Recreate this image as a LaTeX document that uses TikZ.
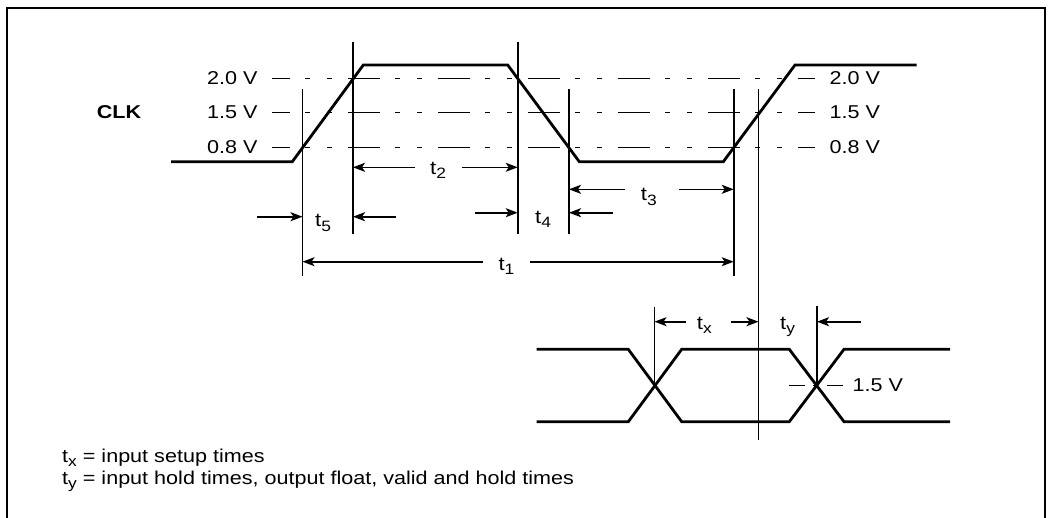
\documentclass[tikz,border=0pt]{standalone}
\usepackage{fontspec}
\setmainfont{Liberation Sans}[FakeStretch=1.16]
\usetikzlibrary{arrows.meta}

\newcommand{\tsub}[1]{t\raisebox{-0.45ex}{\fontsize{15}{15}\selectfont #1}}

\begin{document}
\begin{tikzpicture}[
    x=1pt, y=-1pt,
    font=\fontsize{18.6}{20}\selectfont,
    sig/.style={line width=2.8pt, line join=miter},
    vline/.style={line width=1.6pt},
    level/.style={line width=1.6pt, dash pattern=on 32pt off 15pt on 5pt off 17pt on 5pt off 16pt, dash phase=14pt},
    dimarrow/.style={line width=1.6pt, -{Stealth[length=12pt,width=9pt,inset=3pt]}},
    tlab/.style={anchor=base west, inner sep=0pt, font=\fontsize{19}{20}\selectfont}
]
  \useasboundingbox (0,0) rectangle (1049,517);
  \draw[line width=2.3pt] (7,518) -- (7,8) -- (1045,8) -- (1045,518);

  % threshold levels
  \foreach \lv/\y/\n in {2.0/78.3/a, 1.5/112.3/b, 0.8/147.3/c} {
    \draw[level] (272,\y) -- (815,\y);
    \node[anchor=east] (lvl-\n) at (261,\y) {\lv\ V};
    \node[anchor=west] (lvr-\n) at (826,\y) {\lv\ V};
  }
  \node[font=\fontsize{18.6}{20}\selectfont\bfseries] (clk) at (119,112.3) {CLK};

  \draw[sig] (171,161.7) -- (292.3,161.7) -- (363.3,65) -- (507.7,65) -- (579.3,161.7)
    -- (723.3,161.7) -- (795,65) -- (916.7,65);

  % timing marks
  \foreach \n/\x/\ya/\yb in {v1/302.5/89/276, v2/353/41.7/234, v3/517.7/41.7/234,
      v4/569/89/234, v5/733.7/89/276, v6/758.5/89/439.5, vx/654.5/306.7/385.5, vy/817/306/385.5} {
    \coordinate (\n) at (\x,\ya);
    \draw[vline] (\n) -- (\x,\yb);
  }

  \coordinate (a2l) at (415,167.3);   \coordinate (a2r) at (461.7,167.3);
  \coordinate (a5l) at (257,216.7);   \coordinate (a5r) at (395.7,216.7);
  \coordinate (a4l) at (475,212.7);   \coordinate (a4r) at (612.7,212.7);
  \coordinate (a3l) at (625,189.3);   \coordinate (a3r) at (679.3,189.3);
  \coordinate (a1l) at (483.3,261.7); \coordinate (a1r) at (530,261.7);
  \coordinate (axl) at (685.7,321.7); \coordinate (axr) at (731,321.7);
  \coordinate (ayr) at (860.7,321.7);

  \draw[dimarrow] (a2l) -- (v2 |- a2l);
  \draw[dimarrow] (a2r) -- (v3 |- a2r);
  \draw[dimarrow] (a5l) -- (v1 |- a5l);
  \draw[dimarrow] (a5r) -- (v2 |- a5r);
  \draw[dimarrow] (a4l) -- (v3 |- a4l);
  \draw[dimarrow] (a4r) -- (v4 |- a4r);
  \draw[dimarrow] (a3l) -- (v4 |- a3l);
  \draw[dimarrow] (a3r) -- (v5 |- a3r);
  \draw[dimarrow] (a1l) -- (v1 |- a1l);
  \draw[dimarrow] (a1r) -- (v5 |- a1r);
  \draw[dimarrow] (axl) -- (vx |- axl);
  \draw[dimarrow] (axr) -- (v6 |- axr);
  \draw[dimarrow] (ayr) -- (vy |- ayr);

  \node[tlab] (t2) at (430,174) {\tsub{2}};
  \node[tlab] (t5) at (315,226.7) {\tsub{5}};
  \node[tlab] (t4) at (535,223) {\tsub{4}};
  \node[tlab] (t3) at (640.7,200.7) {\tsub{3}};
  \node[tlab] (t1) at (498.3,270) {\tsub{1}};
  \node[tlab] (tx) at (696.7,329) {\tsub{x}};
  \node[tlab] (ty) at (780,329) {\tsub{y}};

  % data lines
  \draw[sig] (536.7,349.3) -- (628.3,349.3) -- (681.7,421.7) -- (789.3,421.7) -- (844,349.3) -- (950,349.3);
  \draw[sig] (536.7,421.7) -- (628.3,421.7) -- (681.7,349.3) -- (789.3,349.3) -- (844,421.7) -- (950,421.7);
  \draw[line width=1.6pt, dash pattern=on 16pt off 8pt on 5pt off 9pt] (789,385.5) -- (845,385.5);
  \node[anchor=west] (lvd) at (849,385.5) {1.5 V};

  \node[anchor=base west, inner sep=0pt] (notex) at (62,462.5) {\tsub{x} = input setup times};
  \node[anchor=base west, inner sep=0pt] (notey) at (62,484.5) {\tsub{y} = input hold times, output float, valid and hold times};
\end{tikzpicture}
\end{document}
